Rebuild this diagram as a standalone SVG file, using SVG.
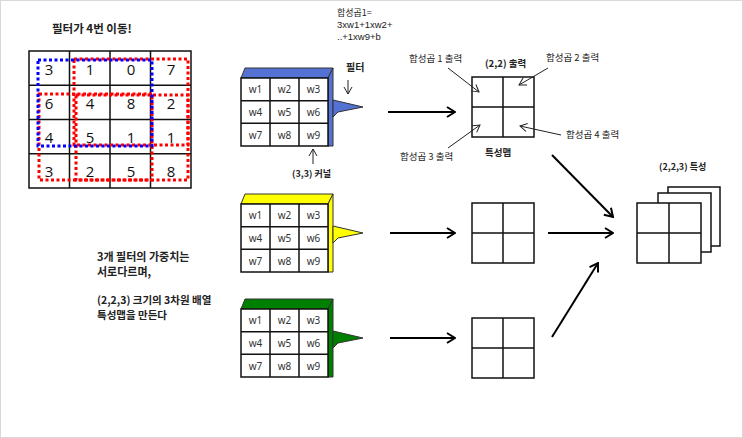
<svg xmlns="http://www.w3.org/2000/svg" width="743" height="438" viewBox="0 0 743 438">
<style>
.t{font-family:"Noto Sans CJK KR","Noto Sans",sans-serif;fill:#222}
.l{font-family:"Liberation Sans","Noto Sans CJK KR",sans-serif;fill:#222}
.b{font-weight:bold}
.num{font-family:"Open Sans","Noto Sans",sans-serif;font-size:15px;fill:#111;text-anchor:middle;dominant-baseline:central}
.w{font-family:"Noto Sans","DejaVu Sans",sans-serif;font-size:10px;fill:#333;text-anchor:middle;dominant-baseline:central}
.grid{fill:none;stroke:#111;stroke-width:1.5}
.cell{fill:#fff;stroke:#111;stroke-width:1.5}
.face{stroke:#333;stroke-width:1}
.dotR{fill:none;stroke:#ff0000;stroke-width:3;stroke-dasharray:3 2.5}
.dotB{fill:none;stroke:#0000ff;stroke-width:3;stroke-dasharray:3 2.5}
.fm{fill:#fff;stroke:#111;stroke-width:1.5}
.arr{fill:none;stroke:#000;stroke-width:2;marker-end:url(#ah)}
.thin{fill:none;stroke:#222;stroke-width:1;marker-end:url(#ah2)}
</style>
<defs>
<marker id="ah" markerUnits="userSpaceOnUse" viewBox="0 0 12 12" refX="11" refY="6" markerWidth="12" markerHeight="12" orient="auto">
<path d="M3,1 L11,6 L3,11" fill="none" stroke="#000" stroke-width="2"/>
</marker>
<marker id="ah2" markerUnits="userSpaceOnUse" viewBox="0 0 10 10" refX="9" refY="5" markerWidth="10" markerHeight="10" orient="auto">
<path d="M2,1 L9,5 L2,9" fill="none" stroke="#222" stroke-width="1"/>
</marker>
<g id="kernel">
<rect x="241" y="10" width="87" height="68" class="cell"/>
<path d="M270,10V78M299,10V78M241,32.7H328M241,55.3H328" class="grid"/>
<text class="w" x="255.5" y="21.3">w1</text><text class="w" x="284.5" y="21.3">w2</text><text class="w" x="313.5" y="21.3">w3</text>
<text class="w" x="255.5" y="44">w4</text><text class="w" x="284.5" y="44">w5</text><text class="w" x="313.5" y="44">w6</text>
<text class="w" x="255.5" y="66.7">w7</text><text class="w" x="284.5" y="66.7">w8</text><text class="w" x="313.5" y="66.7">w9</text>
</g>
<g id="fmap">
<rect x="0" y="0" width="62" height="60" class="fm"/>
<path d="M31,0V60M0,30H62" class="grid"/>
</g>
</defs>
<rect x="0.5" y="0.5" width="742" height="437" fill="#fff" stroke="#d9d9d9"/>

<g id="title"><text class="t b" x="52" y="33" font-size="11.5">필터가 4번 이동!</text></g>

<g id="input-grid">
<rect x="29" y="51" width="162" height="137" class="grid"/>
<path d="M69.5,51V188M110,51V188M150.5,51V188M29,85.25H191M29,119.5H191M29,153.75H191" class="grid"/>
<text class="num" x="49" y="69">3</text><text class="num" x="90" y="69">1</text><text class="num" x="131" y="69">0</text><text class="num" x="171" y="69">7</text>
<text class="num" x="49" y="103">6</text><text class="num" x="90" y="103">4</text><text class="num" x="131" y="103">8</text><text class="num" x="171" y="103">2</text>
<text class="num" x="49" y="137">4</text><text class="num" x="90" y="137">5</text><text class="num" x="131" y="137">1</text><text class="num" x="171" y="137">1</text>
<text class="num" x="49" y="171">3</text><text class="num" x="90" y="171">2</text><text class="num" x="131" y="171">5</text><text class="num" x="171" y="171">8</text>
<rect x="74" y="59" width="114" height="86" class="dotR"/>
<rect x="39" y="94" width="113" height="86" class="dotR"/>
<rect x="76" y="95" width="112" height="85" class="dotR"/>
<rect x="38" y="60" width="114" height="86" class="dotB"/>
</g>

<g id="formula">
<text class="t" x="337" y="16" font-size="9">합성곱1=</text>
<text class="l" x="337" y="28" font-size="9.5">3xw1+1xw2+</text>
<text class="l" x="337" y="40" font-size="9.5">..+1xw9+b</text>
</g>

<g id="kernel1" transform="translate(0,68)">
<polygon points="241,10 245,0 333,0 328,10" fill="#5472d3" class="face"/>
<polygon points="328,10 333,0 333,78 328,78" fill="#5472d3" class="face"/>
<polygon points="333,32 363,39 338,44 333,49" fill="#5472d3" class="face"/>
<use href="#kernel"/>
</g>
<g id="kernel2" transform="translate(0,194)">
<polygon points="241,10 245,0 333,0 328,10" fill="#ffff00" class="face"/>
<polygon points="328,10 333,0 333,78 328,78" fill="#ffff00" class="face"/>
<polygon points="333,32 363,39 338,44 333,49" fill="#ffff00" class="face"/>
<use href="#kernel"/>
</g>
<g id="kernel3" transform="translate(0,299)">
<polygon points="241,10 245,0 333,0 328,10" fill="#008000" class="face"/>
<polygon points="328,10 333,0 333,78 328,78" fill="#008000" class="face"/>
<polygon points="333,32 363,39 338,44 333,49" fill="#008000" class="face"/>
<use href="#kernel"/>
</g>

<g id="labels-kernel">
<text class="t b" x="346" y="71" font-size="10">필터</text>
<text class="t b" x="292" y="177" font-size="9">(3,3) 커널</text>
</g>

<g id="fmap1" transform="translate(472,77)"><use href="#fmap"/></g>
<g id="fmap2" transform="translate(472,203)"><use href="#fmap"/></g>
<g id="fmap3" transform="translate(472,318)"><use href="#fmap"/></g>

<g id="fmap-labels">
<text class="t" x="409" y="62" font-size="9.5">합성곱 1 출력</text>
<text class="t b" x="485" y="67" font-size="9.5">(2,2) 출력</text>
<text class="t" x="546" y="61" font-size="9.5">합성곱 2 출력</text>
<text class="t" x="566" y="138" font-size="9.5">합성곱 4 출력</text>
<text class="t" x="400" y="160" font-size="9.5">합성곱 3 출력</text>
<text class="t b" x="485" y="156" font-size="9.5">특성맵</text>
</g>

<g id="stack">
<rect x="668" y="187" width="52" height="59" class="fm"/>
<rect x="658" y="193" width="53" height="59" class="fm"/>
<rect x="637" y="203" width="64" height="60" class="fm"/>
<path d="M669,203V263M637,233H701" class="grid"/>
<text class="t b" x="659" y="170" font-size="9">(2,2,3) 특성</text>
</g>

<g id="note">
<text class="t b" x="97" y="261" font-size="11">3개 필터의 가중치는</text>
<text class="t b" x="97" y="276" font-size="11">서로다르며,</text>
<text class="t b" x="97" y="304" font-size="10.5">(2,2,3) 크기의 3차원 배열</text>
<text class="t b" x="97" y="319" font-size="10.5">특성맵을 만든다</text>
</g>

<g id="connectors">
<line x1="388" y1="112" x2="455" y2="112" class="arr"/>
<line x1="390" y1="233" x2="455" y2="233" class="arr"/>
<line x1="390" y1="338" x2="455" y2="338" class="arr"/>
<line x1="552" y1="155" x2="613" y2="217" class="arr"/>
<line x1="548" y1="233" x2="613" y2="233" class="arr"/>
<line x1="552" y1="337" x2="598" y2="263" class="arr"/>
<line x1="348" y1="80" x2="348" y2="94" class="thin"/>
<line x1="313" y1="164" x2="313" y2="149" class="thin"/>
<line x1="448" y1="68" x2="479" y2="92" class="thin"/>
<line x1="548" y1="68" x2="519" y2="85" class="thin"/>
<line x1="448" y1="148" x2="480" y2="125" class="thin"/>
<line x1="561" y1="135" x2="520" y2="126" class="thin"/>
</g>
</svg>
